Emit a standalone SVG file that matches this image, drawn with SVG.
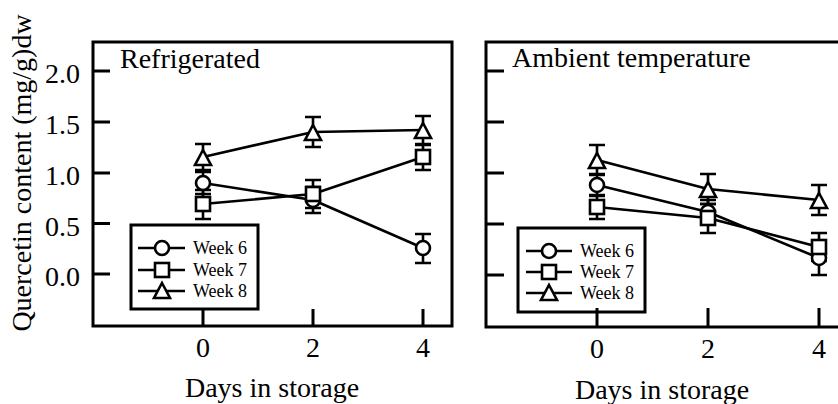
<svg xmlns="http://www.w3.org/2000/svg" xmlns:xlink="http://www.w3.org/1999/xlink" width="838" height="404" viewBox="0 0 838 404">
  <style>
    text { font-family: "Liberation Serif", "Times New Roman", serif; fill: #000; }
    .big { font-size: 28px; }
    .leg { font-size: 18px; }
    .frame { fill: none; stroke: #000; stroke-width: 3; }
    .tick { stroke: #000; stroke-width: 3; fill: none; }
    .series { fill: none; stroke: #000; stroke-width: 2.6; stroke-linejoin: round; }
    .err { stroke: #000; stroke-width: 2.6; fill: none; }
    .mk { fill: #fff; stroke: #000; stroke-width: 2.6; }
  </style>
  <defs>
    <circle id="m-circle" class="mk" r="7"/>
    <rect id="m-square" class="mk" x="-7" y="-7" width="14" height="14"/>
    <polygon id="m-tri" class="mk" points="0,-9 8,6 -8,6"/>
  </defs>

  <rect width="838" height="404" fill="#fff"/>

  <!-- shared y-axis title -->
  <text class="big" text-anchor="middle" transform="translate(31,173) rotate(-90)">Quercetin content (mg/g)dw</text>

  <!-- ===== Left panel: Refrigerated ===== -->
  <g id="panel-refrigerated">
    <path class="frame" d="M93,42 H452 V326 H93 Z"/>
    <g id="left-ticks">
      <path class="tick" d="M93,71 H110 M93,122 H110 M93,173 H110 M93,223.5 H110 M93,274 H110"/>
      <path class="tick" d="M203,326 V309 M313,326 V309 M423,326 V309"/>
    </g>
    <g id="left-tick-labels" class="big" text-anchor="end">
      <text x="80" y="83">2.0</text>
      <text x="80" y="134">1.5</text>
      <text x="80" y="185">1.0</text>
      <text x="80" y="235.5">0.5</text>
      <text x="80" y="286">0.0</text>
    </g>
    <g class="big" text-anchor="middle">
      <text x="203" y="357">0</text>
      <text x="313" y="357">2</text>
      <text x="423" y="357">4</text>
      <text x="272" y="397">Days in storage</text>
    </g>
    <text class="big" x="120" y="68">Refrigerated</text>

    <g id="left-lines">
      <polyline class="series" points="203,183 313,200 423,248"/>
      <polyline class="series" points="203,204 313,194 423,157"/>
      <polyline class="series" points="203,157 313,132 423,130"/>
    </g>
    <g id="left-errors" class="err">
      <path d="M203,172 V194 M195,172 H211 M195,194 H211"/>
      <path d="M313,187 V213 M305,187 H321 M305,213 H321"/>
      <path d="M423,234 V263 M415,234 H431 M415,263 H431"/>
      <path d="M203,190 V219 M195,190 H211 M195,219 H211"/>
      <path d="M313,180 V208 M305,180 H321 M305,208 H321"/>
      <path d="M423,144 V170 M415,144 H431 M415,170 H431"/>
      <path d="M203,144 V170 M195,144 H211 M195,170 H211"/>
      <path d="M313,117 V147 M305,117 H321 M305,147 H321"/>
      <path d="M423,116 V145 M415,116 H431 M415,145 H431"/>
    </g>
    <g id="left-markers">
      <use xlink:href="#m-circle" x="203" y="183"/>
      <use xlink:href="#m-circle" x="313" y="200"/>
      <use xlink:href="#m-circle" x="423" y="248"/>
      <use xlink:href="#m-square" x="203" y="204"/>
      <use xlink:href="#m-square" x="313" y="194"/>
      <use xlink:href="#m-square" x="423" y="157"/>
      <use xlink:href="#m-tri" x="203" y="159"/>
      <use xlink:href="#m-tri" x="313" y="134"/>
      <use xlink:href="#m-tri" x="423" y="132"/>
    </g>

    <g id="left-legend">
      <rect class="frame" x="131" y="225" width="127" height="84" fill="#fff"/>
      <path class="series" d="M138,248 H185 M138,270 H185 M138,291 H185"/>
      <use xlink:href="#m-circle" x="162" y="248"/>
      <use xlink:href="#m-square" x="162" y="270"/>
      <use xlink:href="#m-tri" x="162" y="292"/>
      <text class="leg" x="193" y="254">Week 6</text>
      <text class="leg" x="193" y="276">Week 7</text>
      <text class="leg" x="193" y="297">Week 8</text>
    </g>
  </g>

  <!-- ===== Right panel: Ambient temperature ===== -->
  <g id="panel-ambient">
    <path class="frame" d="M845,42 H486 V327 H845"/>
    <g id="right-ticks">
      <path class="tick" d="M486,71 H504 M486,122 H504 M486,173 H504 M486,224 H504 M486,275 H504"/>
      <path class="tick" d="M597,327 V308 M708,327 V308 M819,327 V308"/>
    </g>
    <g class="big" text-anchor="middle">
      <text x="597" y="358">0</text>
      <text x="708" y="358">2</text>
      <text x="819" y="358">4</text>
      <text x="662" y="399">Days in storage</text>
    </g>
    <text class="big" x="512" y="67">Ambient temperature</text>

    <g id="right-lines">
      <polyline class="series" points="597,185 708,212 819,258"/>
      <polyline class="series" points="597,207 708,218 819,247"/>
      <polyline class="series" points="597,160 708,189 819,200"/>
    </g>
    <g id="right-errors" class="err">
      <path d="M597,174 V196 M589,174 H605 M589,196 H605"/>
      <path d="M708,200 V224 M700,200 H716 M700,224 H716"/>
      <path d="M819,243 V275 M811,243 H827 M811,275 H827"/>
      <path d="M597,195 V219 M589,195 H605 M589,219 H605"/>
      <path d="M708,204 V233 M700,204 H716 M700,233 H716"/>
      <path d="M819,233 V261 M811,233 H827 M811,261 H827"/>
      <path d="M597,145 V175 M589,145 H605 M589,175 H605"/>
      <path d="M708,174 V204 M700,174 H716 M700,204 H716"/>
      <path d="M819,185 V215 M811,185 H827 M811,215 H827"/>
    </g>
    <g id="right-markers">
      <use xlink:href="#m-circle" x="597" y="185"/>
      <use xlink:href="#m-circle" x="708" y="212"/>
      <use xlink:href="#m-circle" x="819" y="258"/>
      <use xlink:href="#m-square" x="597" y="207"/>
      <use xlink:href="#m-square" x="708" y="218"/>
      <use xlink:href="#m-square" x="819" y="247"/>
      <use xlink:href="#m-tri" x="597" y="162"/>
      <use xlink:href="#m-tri" x="708" y="191"/>
      <use xlink:href="#m-tri" x="819" y="202"/>
    </g>

    <g id="right-legend">
      <rect class="frame" x="518" y="228" width="127" height="84" fill="#fff"/>
      <path class="series" d="M526,251 H572 M526,272 H572 M526,293 H572"/>
      <use xlink:href="#m-circle" x="549" y="251"/>
      <use xlink:href="#m-square" x="549" y="272"/>
      <use xlink:href="#m-tri" x="549" y="294"/>
      <text class="leg" x="580" y="257">Week 6</text>
      <text class="leg" x="580" y="278">Week 7</text>
      <text class="leg" x="580" y="299">Week 8</text>
    </g>
  </g>
</svg>
